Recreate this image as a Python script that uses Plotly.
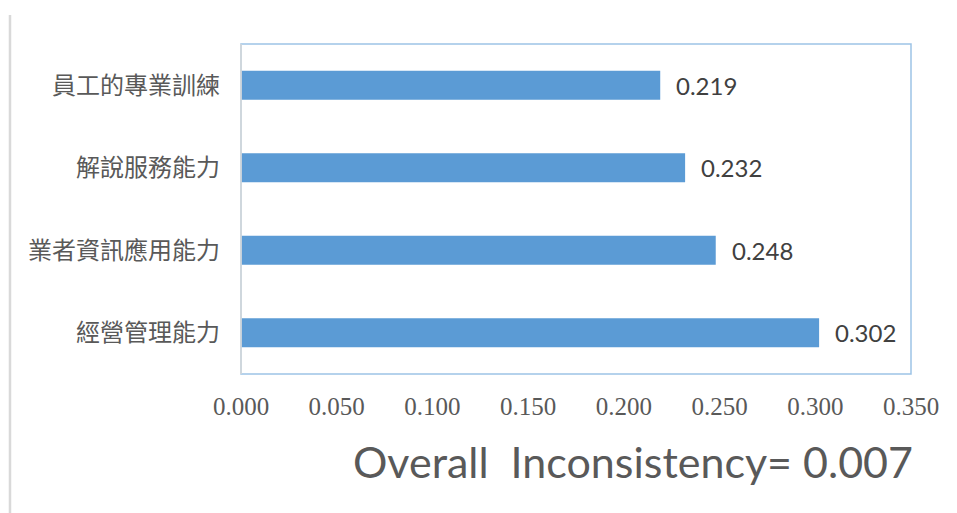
import plotly.graph_objects as go

categories = ["員工的專業訓練", "解說服務能力", "業者資訊應用能力", "經營管理能力"]
values = [0.219, 0.232, 0.248, 0.302]
value_labels = ["0.219", "0.232", "0.248", "0.302"]
tick_vals = [0.0, 0.05, 0.10, 0.15, 0.20, 0.25, 0.30, 0.35]
tick_text = ["0.000", "0.050", "0.100", "0.150", "0.200", "0.250", "0.300", "0.350"]
note_text = "Overall\u00a0\u00a0Inconsistency=\u00a00.007"

fig = go.Figure()
fig.add_trace(go.Bar(
    x=values, y=categories, orientation="h",
    marker=dict(color="#5B9BD5", line=dict(width=0)),
    width=0.35, hoverinfo="skip",
))

for v, c, t in zip(values, categories, value_labels):
    fig.add_annotation(x=v, y=c, text=t, showarrow=False, xanchor="left",
                       yanchor="middle", xshift=14,
                       font=dict(family="Lato", size=24, color="#404040"))

fig.add_annotation(x=1.006, y=-0.265, xref="paper", yref="paper", text=note_text,
                   showarrow=False, xanchor="right", yanchor="middle",
                   font=dict(family="Lato", size=43, color="#595959"))

# plot-area border
fig.add_shape(type="rect", xref="paper", yref="paper", x0=0, x1=1, y0=0, y1=1,
              line=dict(color="#9DC3E6", width=1.5), layer="above")
fig.add_shape(type="line", xref="paper", yref="paper", x0=0, x1=0, y0=0, y1=1,
              line=dict(color="#D9D9D9", width=1.5), layer="above")
# left page rule
fig.add_shape(type="line", xref="paper", yref="paper", x0=-0.3448, x1=-0.3448,
              y0=-0.43, y1=1.088, line=dict(color="#D9D9D9", width=2.5))

fig.update_layout(
    width=949, height=505,
    margin=dict(l=233, r=46, t=36, b=139),
    paper_bgcolor="white", plot_bgcolor="white",
    showlegend=False,
    bargap=0.65,
    xaxis=dict(range=[0, 0.35], tickvals=tick_vals, ticktext=tick_text,
               showgrid=False, zeroline=False, showline=False, ticks="",
               ticklabelstandoff=15,
               tickfont=dict(family="Liberation Serif", size=25, color="#595959")),
    yaxis=dict(autorange="reversed", showgrid=False, zeroline=False, showline=False,
               ticks="", ticklabelstandoff=20,
               tickfont=dict(family="Noto Sans CJK TC", size=24, color="#595959")),
)

fig.write_html("out.html")
